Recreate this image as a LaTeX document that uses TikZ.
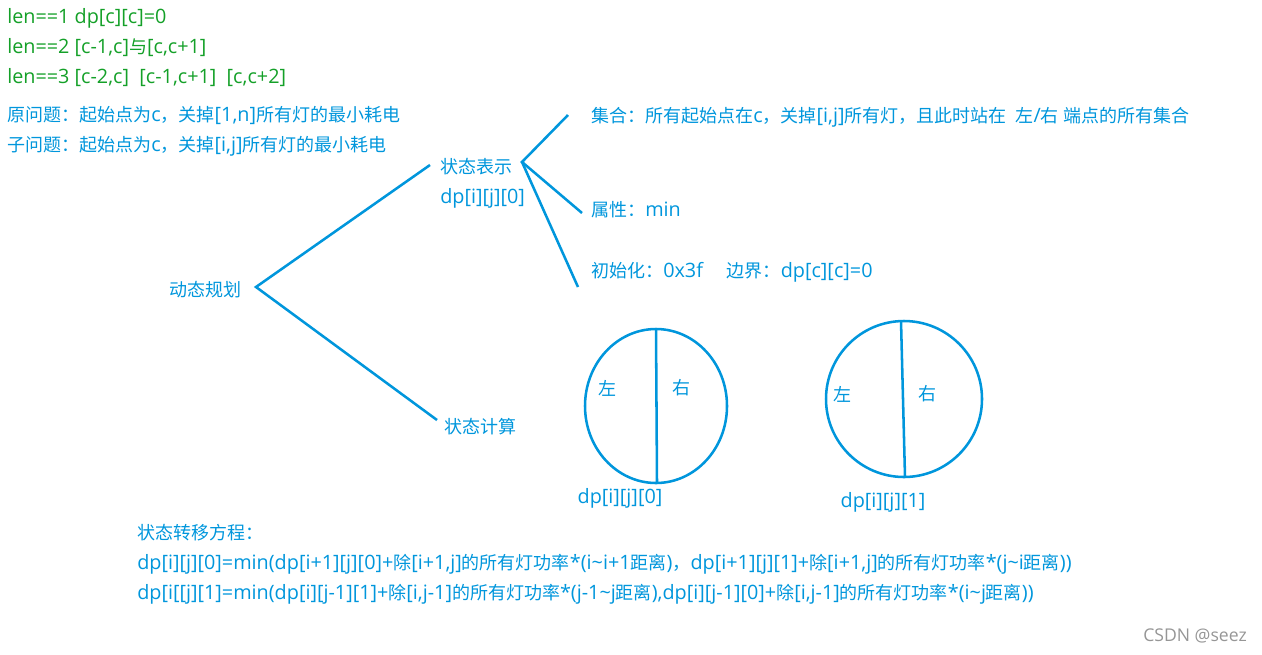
\documentclass[tikz,border=0pt]{standalone}
\usepackage{fontspec}
\setmainfont{Open Sans}[Scale=1.1]
\newfontfamily\cjkfont{Noto Sans CJK SC}
\newfontfamily\latinfont{Open Sans}[Scale=1.1]
\usetikzlibrary{positioning}
\definecolor{noteblue}{RGB}{0,150,220}
\definecolor{notegreen}{RGB}{20,160,40}
\definecolor{markgray}{RGB}{150,150,150}
\newcommand{\tld}{\textasciitilde{}}
% switch to the CJK font for Chinese characters and full-width punctuation
\XeTeXinterchartokenstate=1
\newXeTeXintercharclass\hanclass
\count255="4E00
\loop\XeTeXcharclass\count255=\hanclass
  \ifnum\count255<"9FFF\advance\count255 by 1\repeat
\count255="FF00
\loop\XeTeXcharclass\count255=\hanclass
  \ifnum\count255<"FFEF\advance\count255 by 1\repeat
\XeTeXinterchartoks 0 \hanclass = {\cjkfont}
\XeTeXinterchartoks 4095 \hanclass = {\cjkfont}
\XeTeXinterchartoks \hanclass 0 = {\latinfont}
\XeTeXinterchartoks \hanclass 4095 = {\latinfont}

\begin{document}
\begin{tikzpicture}[
    x=0.75pt, y=-0.75pt,
    font=\fontsize{13.5pt}{16pt}\selectfont,
    txt/.style={anchor=west, inner sep=0pt, text=noteblue},
    gtxt/.style={txt, text=notegreen},
    branch/.style={draw=noteblue, line width=1.9pt},
    half/.style={draw=noteblue, line width=1.9pt}
]
\useasboundingbox (0,0) rectangle (1262,654);
% notes at top left
\node[gtxt] (len1) at (7,18) {len==1 dp[c][c]=0};
\node[gtxt] (len2) at (7,48) {len==2 [c-1,c]与[c,c+1]};
\node[gtxt] (len3) at (7,78) {len==3 [c-2,c]\ \ [c-1,c+1]\ \ [c,c+2]};
\node[txt] (orig) at (7,115) {原问题：起始点为c，关掉[1,n]所有灯的最小耗电};
\node[txt] (sub) at (7,146) {子问题：起始点为c，关掉[i,j]所有灯的最小耗电};

% tree
\node[txt] (dp) at (169,290) {动态规划};
\node[txt] (rep) at (440,167) {状态表示};
\node[txt] (repdp) at (440,198) {dp[i][j][0]};
\node[txt] (calc) at (444,427) {状态计算};
\node[txt] (set) at (591,117) {集合：所有起始点在c，关掉[i,j]所有灯，且此时站在\hspace{0.45em}左/右 端点的所有集合};
\node[txt] (attr) at (591,210) {属性：min};
\node[txt] (init) at (591,272) {初始化：0x3f\hspace{1.2em}边界：dp[c][c]=0};

\coordinate (root) at (256,287);
\coordinate (fork) at (522,162);
\coordinate (toRep) at (430,165);
\coordinate (toCalc) at (437,420);
\coordinate (toSet) at (568,115);
\coordinate (toAttr) at (582,213);
\coordinate (toInit) at (578,287);
\draw[branch] (toRep) -- (root) -- (toCalc);
\draw[branch] (toSet) -- (fork) -- (toAttr);
\draw[branch] (fork) -- (toInit);

% the two states
\draw[half] (656,406) ellipse [x radius=71, y radius=77];
\draw[half] (656,329) -- (657,483);
\node[txt, anchor=center] (l0) at (607,388) {左};
\node[txt, anchor=center] (r0) at (681,388) {右};
\node[txt, anchor=center] (s0) at (620,498) {dp[i][j][0]};

\draw[half] (904,399) ellipse [x radius=78, y radius=78];
\draw[half] (901,321) -- (905,477);
\node[txt, anchor=center] (l1) at (842,394) {左};
\node[txt, anchor=center] (r1) at (927,394) {右};
\node[txt, anchor=center] (s1) at (883,502) {dp[i][j][1]};

% transition
\node[txt] (eqt) at (137,533) {状态转移方程：};
\node[txt] (eq0) at (137,564) {dp[i][j][0]=min(dp[i+1][j][0]+除[i+1,j]的所有灯功率*(i\tld i+1距离)，dp[i+1][j][1]+除[i+1,j]的所有灯功率*(j\tld i距离))};
\node[txt] (eq1) at (137,594) {dp[i[[j][1]=min(dp[i][j-1][1]+除[i,j-1]的所有灯功率*(j-1\tld j距离),dp[i][j-1][0]+除[i,j-1]的所有灯功率*(i\tld j距离))};

\node[anchor=east, inner sep=0pt, text=markgray, font=\fontsize{12pt}{14pt}\selectfont] (mark) at (1247,636) {CSDN @seez};
\end{tikzpicture}
\end{document}
